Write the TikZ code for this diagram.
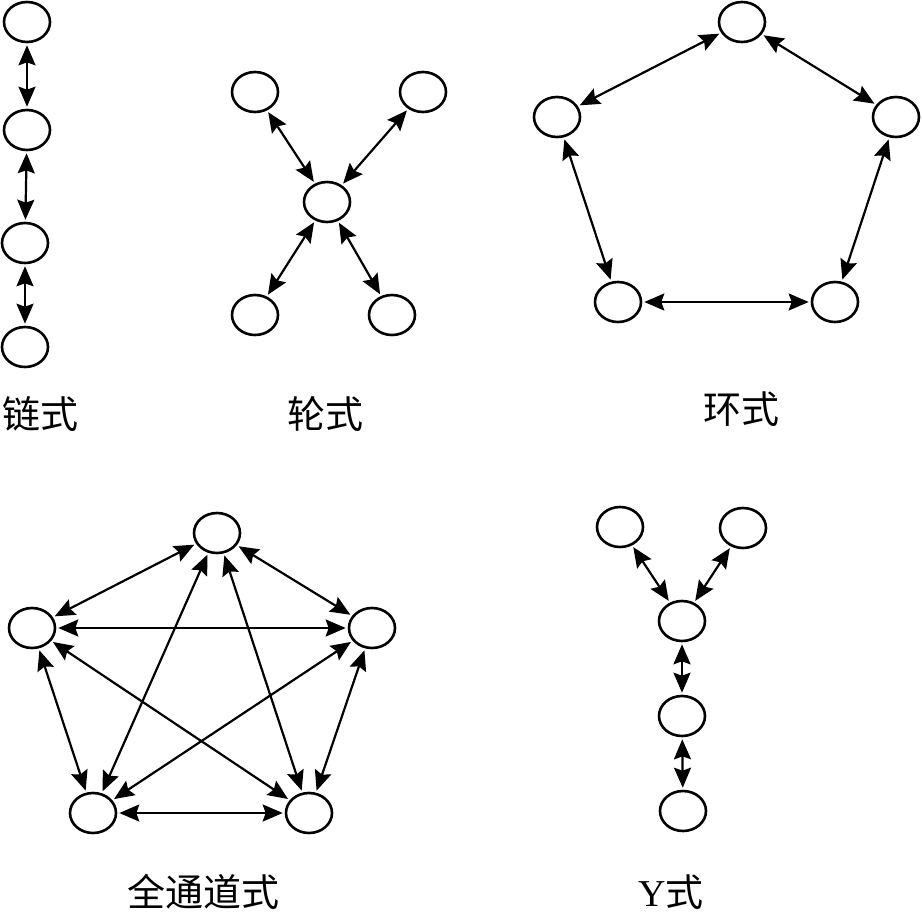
\documentclass[tikz,border=0pt]{standalone}
\usepackage{fontspec}
\newfontfamily\cjk{Noto Sans CJK SC}
\newfontfamily\latinserif{Liberation Serif}
\usetikzlibrary{arrows.meta,shapes.geometric}
\tikzset{
  nd/.style={draw, ellipse, line width=2.6pt, minimum width=46pt, minimum height=40pt, inner sep=0pt, fill=white},
  lnk/.style={line width=2.2pt, >={Stealth[length=20pt,width=17pt,inset=3pt]}, <->, shorten <=2pt, shorten >=2pt},
  lbl/.style={font=\cjk\fontsize{38}{42}\selectfont, inner sep=0pt, anchor=base}
}
\begin{document}
\begin{tikzpicture}[x=1pt,y=-1pt]
\useasboundingbox (0,0) rectangle (922,913);
% chain
\node[nd] (c1) at (27,22) {};
\node[nd] (c2) at (27,130) {};
\node[nd] (c3) at (25,243) {};
\node[nd] (c4) at (25,347) {};
\draw[lnk] (c1) -- (c2);
\draw[lnk] (c2) -- (c3);
\draw[lnk] (c3) -- (c4);
\node[lbl] (lc) at (40,428) {链式};
% wheel
\node[nd] (w0) at (327,202) {};
\node[nd] (w1) at (255,92) {};
\node[nd] (w2) at (423,92) {};
\node[nd] (w3) at (255,315) {};
\node[nd] (w4) at (392,315) {};
\draw[lnk] (w0) -- (w1);
\draw[lnk] (w0) -- (w2);
\draw[lnk] (w0) -- (w3);
\draw[lnk] (w0) -- (w4);
\node[lbl] (lw) at (325,428) {轮式};
% ring
\node[nd] (r1) at (742,22) {};
\node[nd] (r2) at (557,117) {};
\node[nd] (r3) at (896,117) {};
\node[nd] (r4) at (618,302) {};
\node[nd] (r5) at (835,302) {};
\draw[lnk] (r1) -- (r2);
\draw[lnk] (r1) -- (r3);
\draw[lnk] (r2) -- (r4);
\draw[lnk] (r3) -- (r5);
\draw[lnk] (r4) -- (r5);
\node[lbl] (lr) at (741,423) {环式};
% all-channel
\node[nd] (a1) at (217,533) {};
\node[nd] (a2) at (32,628) {};
\node[nd] (a3) at (372,628) {};
\node[nd] (a4) at (93,813) {};
\node[nd] (a5) at (309,813) {};
\draw[lnk] (a1) -- (a2);
\draw[lnk] (a1) -- (a3);
\draw[lnk] (a1) -- (a4);
\draw[lnk] (a1) -- (a5);
\draw[lnk] (a2) -- (a3);
\draw[lnk] (a2) -- (a4);
\draw[lnk] (a2) -- (a5);
\draw[lnk] (a3) -- (a4);
\draw[lnk] (a3) -- (a5);
\draw[lnk] (a4) -- (a5);
\node[lbl] (la) at (203,906) {全通道式};
% Y
\node[nd] (y1) at (620,527) {};
\node[nd] (y2) at (743,528) {};
\node[nd] (y3) at (682,621) {};
\node[nd] (y4) at (682,716) {};
\node[nd] (y5) at (683,811) {};
\draw[lnk] (y1) -- (y3);
\draw[lnk] (y2) -- (y3);
\draw[lnk] (y3) -- (y4);
\draw[lnk] (y4) -- (y5);
\node[lbl] (ly) at (671,906) {{\latinserif Y}式};
\end{tikzpicture}
\end{document}
